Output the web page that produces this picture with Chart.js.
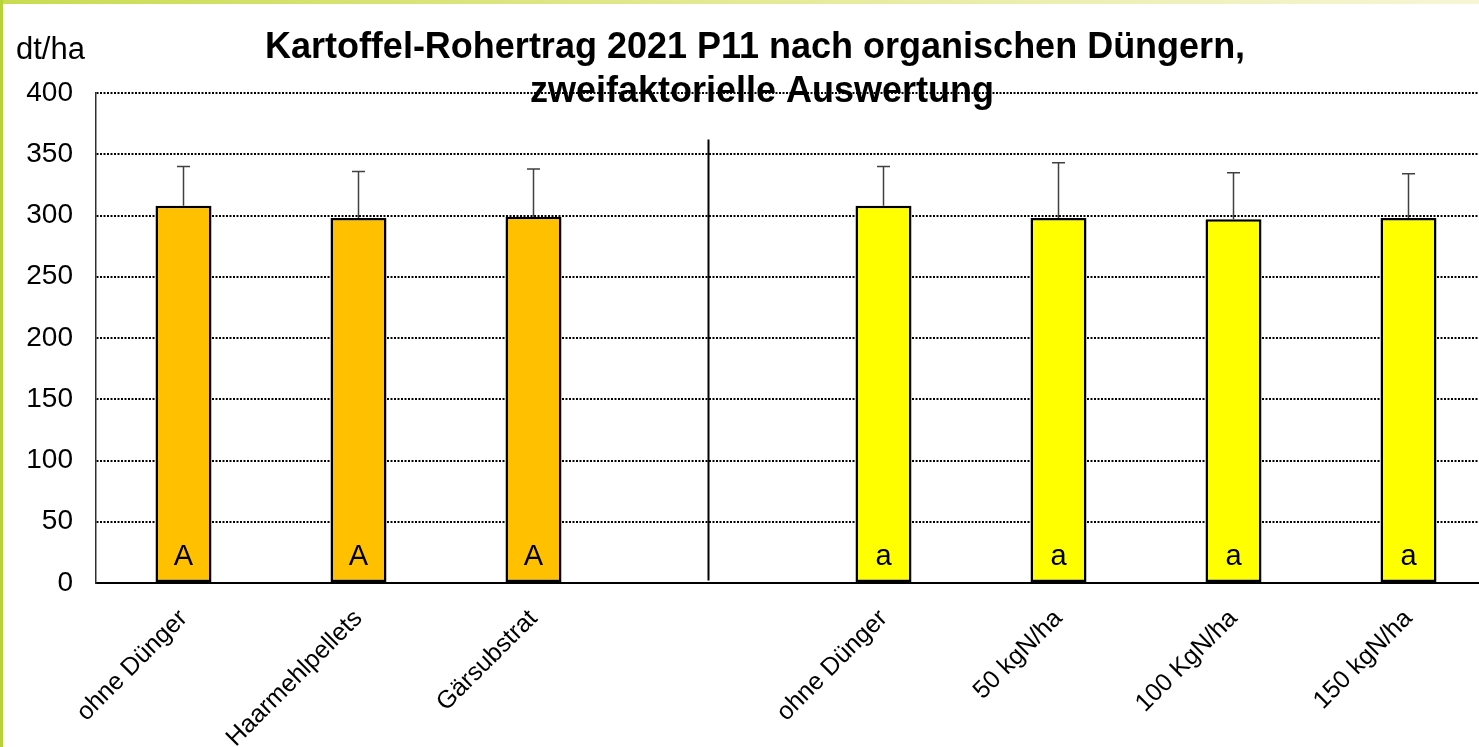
<!DOCTYPE html>
<html>
<head>
<meta charset="utf-8">
<script src="https://cdn.jsdelivr.net/npm/chart.js@4.4.1/dist/chart.umd.min.js"></script>
<style>
html, body { margin: 0; padding: 0; overflow: hidden; background: #fff; width: 1479px; height: 747px; }
#wrap { position: absolute; left: 0; top: 0; width: 1500px; height: 747px; }
#topbar { position: absolute; left: 0; top: 0; width: 1479px; height: 4px; z-index: 2;
  background: linear-gradient(to right, #c8dc52, #e2e88f 45%, #f6f6d6); }
#leftbar { position: absolute; left: 0; top: 0; width: 3px; height: 747px; z-index: 2; background: #b6d337; }
</style>
</head>
<body>
<div id="topbar"></div>
<div id="leftbar"></div>
<div id="wrap"><canvas id="yieldChart"></canvas></div>
<script>
// data
const categories = ['ohne Dünger', 'Haarmehlpellets', 'Gärsubstrat', '', 'ohne Dünger', '50 kgN/ha', '100 KgN/ha', '150 kgN/ha'];
const yields = [308, 298, 299, null, 308, 298, 297, 298];
const errorTops = [340, 336, 338, null, 340, 343, 335, 334];
const letters = ['A', 'A', 'A', '', 'a', 'a', 'a', 'a'];
const barColors = ['#FFC000', '#FFC000', '#FFC000', '#FFC000', '#FFFF00', '#FFFF00', '#FFFF00', '#FFFF00'];
const yMin = 0, yMax = 400, yStep = 50;
const separatorIndex = 3;
const separatorTop = 362;
const titleLines = ['Kartoffel-Rohertrag 2021 P11 nach organischen Düngern,', 'zweifaktorielle Auswertung'];
const yUnit = 'dt/ha';

const FONT = 'Arial, "Liberation Sans", sans-serif';

const extras = {
    id: 'extras',
    afterDatasetsDraw(chart) {
        const ctx = chart.ctx;
        const x = chart.scales.x, y = chart.scales.y;
        const bars = chart.getDatasetMeta(0).data;
        ctx.save();
        // error bars
        ctx.strokeStyle = '#404040';
        ctx.lineWidth = 1.5;
        yields.forEach((v, i) => {
            if (v == null) return;
            const cx = bars[i].x;
            const y0 = y.getPixelForValue(v), y1 = y.getPixelForValue(errorTops[i]);
            ctx.beginPath();
            ctx.moveTo(cx, y0); ctx.lineTo(cx, y1);
            ctx.moveTo(cx - 6.5, y1); ctx.lineTo(cx + 6.5, y1);
            ctx.stroke();
        });
        // letters
        ctx.fillStyle = '#000';
        ctx.font = '29px ' + FONT;
        ctx.textAlign = 'center';
        ctx.textBaseline = 'middle';
        letters.forEach((l, i) => {
            if (!l) return;
            ctx.fillText(l, bars[i].x, y.getPixelForValue(0) - 26);
        });
        // separator
        const sx = x.getPixelForValue(separatorIndex);
        ctx.strokeStyle = '#000';
        ctx.lineWidth = 2;
        ctx.beginPath();
        ctx.moveTo(sx, y.getPixelForValue(separatorTop));
        ctx.lineTo(sx, y.getPixelForValue(2));
        ctx.stroke();
        ctx.restore();
    },
    afterDraw(chart) {
        const ctx = chart.ctx;
        ctx.save();
        ctx.fillStyle = '#000';
        ctx.textBaseline = 'middle';
        ctx.textAlign = 'center';
        ctx.font = 'bold 36px ' + FONT;
        ctx.fillText(titleLines[0], 755, 48);
        ctx.fillText(titleLines[1], 762, 92);
        ctx.textAlign = 'left';
        ctx.font = '31px ' + FONT;
        ctx.fillText(yUnit, 16, 50);
        ctx.restore();
    }
};

const ctx = document.getElementById('yieldChart').getContext('2d');
new Chart(ctx, {
    type: 'bar',
    data: {
        labels: categories,
        datasets: [{
            data: yields,
            backgroundColor: barColors,
            borderColor: '#000',
            borderWidth: 2.5,
            borderSkipped: false,
            categoryPercentage: 1,
            barPercentage: 0.32
        }]
    },
    options: {
        responsive: true,
        maintainAspectRatio: false,
        animation: false,
        layout: { padding: { top: 93, right: 4, left: 0, bottom: 0 } },
        plugins: { legend: { display: false }, tooltip: { enabled: false } },
        scales: {
            x: {
                afterFit(scale) { scale.height = 164; },
                grid: { display: false, drawTicks: false },
                border: { display: true, color: '#000', width: 2 },
                ticks: {
                    autoSkip: false,
                    maxRotation: 45,
                    minRotation: 45,
                    padding: 21,
                    color: '#000',
                    font: { family: FONT, size: 25 }
                }
            },
            y: {
                min: yMin,
                max: yMax,
                afterFit(scale) { scale.width = 96; },
                grid: { color: '#000', lineWidth: 2, drawTicks: false },
                border: { display: true, color: '#303030', width: 1.5, dash: [2, 1.5] },
                ticks: {
                    stepSize: yStep,
                    padding: 23,
                    color: '#000',
                    font: { family: FONT, size: 28 }
                }
            }
        }
    },
    plugins: [extras]
});
</script>
</body>
</html>
